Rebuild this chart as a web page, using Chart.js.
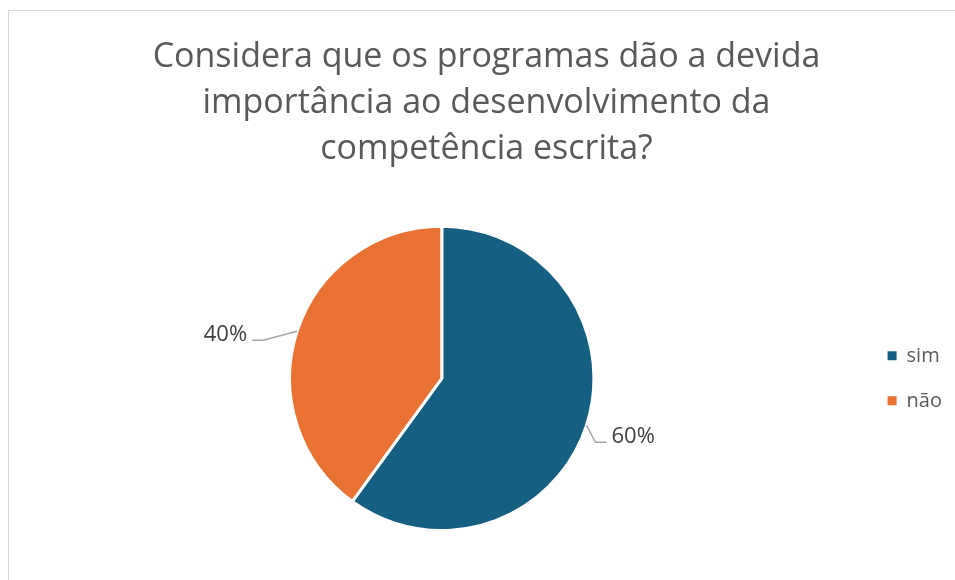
<!DOCTYPE html>
<html>
<head>
<meta charset="utf-8">
<script src="https://cdn.jsdelivr.net/npm/chart.js@4/dist/chart.umd.min.js"></script>
<style>
  html, body { margin: 0; padding: 0; background: #fff; overflow: hidden; }
  .frame {
    position: absolute; left: 8px; top: 10px;
    width: 980px; height: 600px;
    border: 1.5px solid #d9d9d9;
    box-sizing: border-box;
  }
  .wrap { position: absolute; left: 9px; top: 11px; width: 960px; height: 569px; }
</style>
</head>
<body>
<div class="frame"></div>
<div class="wrap"><canvas id="pie"></canvas></div>
<script>
// chart data
const titleLines = [
  'Considera que os programas dão a devida',
  'importância ao desenvolvimento da',
  'competência escrita?'
];
const categories = ['sim', 'não'];
const shares = [60, 40];
const sliceColors = ['#156082', '#E97132'];

const FONT = '"Open Sans", Roboto, sans-serif';

// leader line shape for each label (elbow offset from the slice edge)
const leaderStyle = [
  { dx: 9, dy: 17, run: 11 },
  { dx: -34, dy: 9, run: 11 }
];

const calloutPlugin = {
  id: 'callouts',
  afterDatasetsDraw(chart) {
    const ctx = chart.ctx;
    const arcs = chart.getDatasetMeta(0).data;
    ctx.save();
    ctx.font = '22px ' + FONT;
    ctx.fillStyle = '#404040';
    ctx.strokeStyle = '#A6A6A6';
    ctx.lineWidth = 1.5;
    arcs.forEach((arc, i) => {
      const p = arc.getProps(['x', 'y', 'startAngle', 'endAngle', 'outerRadius'], true);
      const mid = (p.startAngle + p.endAngle) / 2;
      const ex = p.x + Math.cos(mid) * p.outerRadius;
      const ey = p.y + Math.sin(mid) * p.outerRadius;
      const st = leaderStyle[i];
      const side = Math.cos(mid) >= 0 ? 1 : -1;
      const bx = ex + st.dx;
      const by = ey + st.dy;
      const tx = bx + side * st.run;
      ctx.beginPath();
      ctx.moveTo(ex, ey);
      ctx.lineTo(bx, by);
      ctx.lineTo(tx, by);
      ctx.stroke();
      ctx.textAlign = side > 0 ? 'left' : 'right';
      ctx.textBaseline = 'alphabetic';
      ctx.fillText(shares[i] + '%', tx + side * 5, by + 1);
    });
    ctx.restore();
  }
};

new Chart(document.getElementById('pie'), {
  type: 'pie',
  data: {
    labels: categories,
    datasets: [{
      data: shares,
      backgroundColor: sliceColors,
      borderColor: '#ffffff',
      borderWidth: 3
    }]
  },
  options: {
    responsive: true,
    maintainAspectRatio: false,
    animation: false,
    layout: { padding: { top: 0, bottom: 48, left: 12, right: 17 } },
    plugins: {
      title: {
        display: true,
        text: titleLines,
        color: '#595959',
        font: { family: FONT, size: 34, weight: 'normal', lineHeight: 1.34 },
        padding: { top: 24, bottom: 53 }
      },
      legend: {
        position: 'right',
        fullSize: false,
        labels: {
          color: '#595959',
          font: { family: FONT, size: 20 },
          boxWidth: 9,
          boxHeight: 9,
          padding: 25,
          generateLabels(chart) {
            return Chart.overrides.pie.plugins.legend.labels.generateLabels(chart).map(l => ({
              ...l, lineWidth: 0, strokeStyle: 'rgba(0,0,0,0)'
            }));
          }
        }
      },
      tooltip: { enabled: false }
    }
  },
  plugins: [calloutPlugin]
});
</script>
</body>
</html>
